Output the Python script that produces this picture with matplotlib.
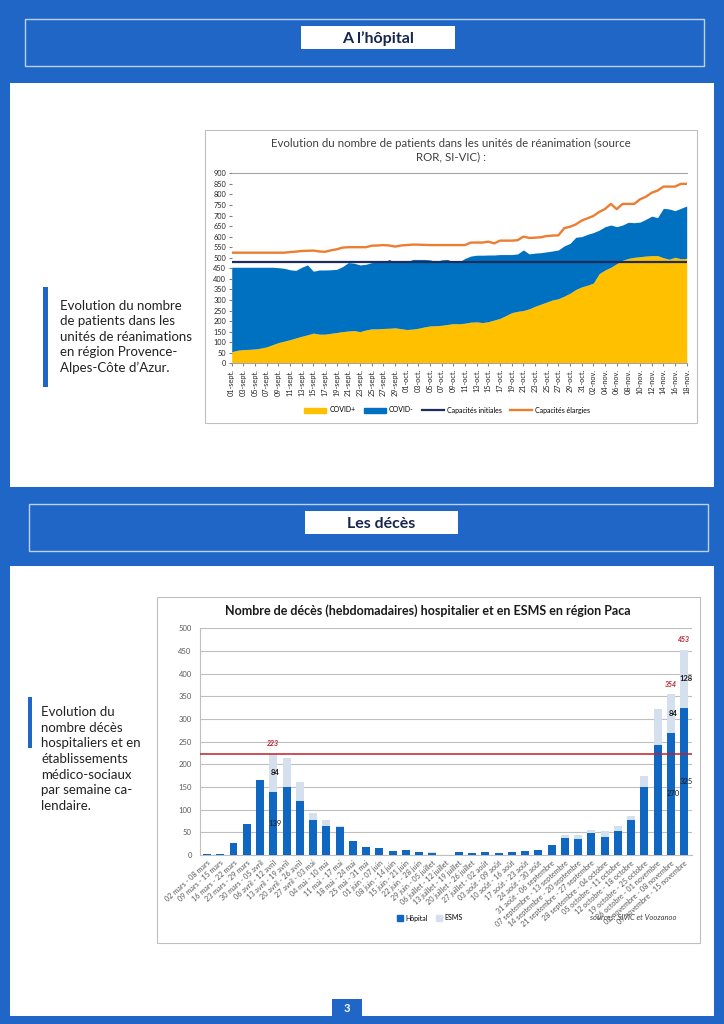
import matplotlib.pyplot as plt
from matplotlib.patches import Rectangle, Patch
from matplotlib.lines import Line2D
import numpy as np

plt.rcParams['font.family'] = ['Lato', 'DejaVu Sans']

W, H = 724, 1024
BLEU = '#1F66C6'

# --- graphique 1 : patients en réanimation, 01-sept -> 18-nov (journalier) ---
covid_plus = [55, 62, 65, 66, 68, 72, 78, 88, 98, 105, 112, 120, 128, 135, 143,
              138, 138, 142, 146, 150, 153, 155, 150, 158, 163, 163, 165, 166, 168, 164,
              160, 162, 166, 172, 177, 178, 180, 184, 188, 187, 190, 195, 196, 193, 197,
              205, 213, 226, 240, 246, 250, 258, 270, 280, 290, 300, 306, 318, 332, 350, 362,
              370, 380, 425, 442, 455, 472, 488, 497, 502, 505, 508, 510, 510, 500, 493,
              502, 495, 497]
total_rea = [455, 455, 455, 455, 455, 455, 455, 455, 453, 450, 443, 440, 455, 466, 436,
             442, 442, 443, 445, 458, 477, 474, 466, 469, 477, 478, 478, 492, 478, 478,
             478, 492, 492, 492, 490, 482, 490, 492, 480, 480, 497, 508, 512, 512, 513,
             513, 515, 515, 515, 518, 537, 518, 522, 524, 528, 532, 537, 556, 568, 597, 600,
             611, 619, 631, 647, 655, 647, 655, 668, 666, 669, 682, 697, 690, 734, 731,
             723, 734, 745]
cap_elargies = [524, 524, 524, 524, 524, 524, 524, 524, 524, 524, 527, 529, 532, 533, 534,
                530, 528, 535, 540, 548, 550, 550, 550, 550, 557, 558, 560, 558, 553, 558,
                560, 562, 562, 561, 560, 560, 560, 560, 560, 560, 560, 572, 572, 572, 576,
                568, 581, 581, 581, 583, 600, 594, 595, 597, 603, 605, 606, 640, 647, 658, 676,
                687, 698, 717, 731, 755, 730, 755, 755, 755, 777, 789, 808, 818, 837, 837,
                837, 850, 850]
cap_initiales = 480
jours_labels = ['01-sept.', '03-sept.', '05-sept.', '07-sept.', '09-sept.', '11-sept.',
                '13-sept.', '15-sept.', '17-sept.', '19-sept.', '21-sept.', '23-sept.',
                '25-sept.', '27-sept.', '29-sept.', '01-oct.', '03-oct.', '05-oct.',
                '07-oct.', '09-oct.', '11-oct.', '13-oct.', '15-oct.', '17-oct.',
                '19-oct.', '21-oct.', '23-oct.', '25-oct.', '27-oct.', '29-oct.',
                '31-oct.', '02-nov.', '04-nov.', '06-nov.', '08-nov.', '10-nov.',
                '12-nov.', '14-nov.', '16-nov.', '18-nov.']

# --- graphique 2 : décès hebdomadaires ---
semaines = ['02 mars - 08 mars', '09 mars - 15 mars', '16 mars - 22 mars',
            '23 mars - 29 mars', '30 mars - 05 avril', '06 avril - 12 avril',
            '13 avril - 19 avril', '20 avril - 26 avril', '27 avril - 03 mai',
            '04 mai - 10 mai', '11 mai - 17 mai', '18 mai - 24 mai', '25 mai - 31 mai',
            '01 juin - 07 juin', '08 juin - 14 juin', '15 juin - 21 juin',
            '22 juin - 28 juin', '29 juin - 05 juillet', '06 juillet - 12 juillet',
            '13 juillet - 19 juillet', '20 juillet - 26 juillet', '27 juillet - 02 août',
            '03 août - 09 août', '10 août - 16 août', '17 août - 23 août',
            '24 août - 30 août', '31 août - 06 septembre', '07 septembre - 13 septembre',
            '14 septembre - 20 septembre', '21 septembre - 27 septembre',
            '28 septembre - 04 octobre', '05 octobre - 11 octobre',
            '12 octobre - 18 octobre', '19 octobre - 25 octobre',
            '26 octobre - 01 novembre', '02 novembre - 08 novembre',
            '09 novembre - 15 novembre']
deces_hopital = [2, 2, 26, 69, 165, 139, 150, 119, 77, 65, 62, 31, 18, 15, 9, 11, 7, 4, 1,
                 6, 4, 7, 4, 6, 8, 10, 21, 38, 36, 48, 40, 53, 77, 149, 243, 270, 325]
deces_esms = [0, 0, 0, 0, 0, 84, 63, 43, 15, 12, 1, 0, 0, 0, 0, 0, 0, 2, 0,
              0, 0, 0, 0, 0, 0, 0, 0, 7, 8, 8, 14, 12, 10, 25, 78, 84, 128]
semaines_annotees = [5, 35, 36]
seuil_vague1 = 223

fig = plt.figure(figsize=(W / 100, H / 100), dpi=100)
fig.patch.set_facecolor(BLEU)
bg = fig.add_axes([0, 0, 1, 1])
bg.set_xlim(0, W)
bg.set_ylim(H, 0)
bg.axis('off')


def rect(x0, y0, x1, y1, **kw):
    bg.add_patch(Rectangle((x0, y0), x1 - x0, y1 - y0, **kw))


def px_axes(x0, y0, x1, y1):
    return fig.add_axes([x0 / W, 1 - y1 / H, (x1 - x0) / W, (y1 - y0) / H])


# bandeaux de titre
for (bx0, by0, bx1, by1), (lx0, ly0, lx1, ly1), titre in [
        ((25, 19, 704, 66), (301, 26, 455, 49), 'A l’hôpital'),
        ((29, 504, 708, 551), (305, 511, 458, 534), 'Les décès')]:
    rect(bx0, by0, bx1, by1, fill=False, ec='#BCD2F2', lw=1)
    rect(lx0, ly0, lx1, ly1, fc='white', ec='none')
    bg.text((lx0 + lx1) / 2, (ly0 + ly1) / 2 + 1.5, titre, ha='center', va='center',
            fontsize=11.5, fontweight='bold', color='#17264F')

# panneaux blancs
rect(10, 83, 714, 487, fc='white', ec='none')
rect(10, 566, 714, 1016, fc='white', ec='none')

# textes de gauche
rect(43, 287, 48, 387, fc=BLEU, ec='none')
bg.text(60, 337, 'Evolution du nombre\nde patients dans les\nunités de réanimations\n'
        'en région Provence-\nAlpes-Côte d’Azur.', ha='left', va='center',
        fontsize=9.5, color='#222222', linespacing=1.35)
rect(28, 697, 32, 748, fc=BLEU, ec='none')
bg.text(41, 759, 'Evolution du\nnombre décès\nhospitaliers et en\nétablissements\n'
        'médico-sociaux\npar semaine ca-\nlendaire.', ha='left', va='center',
        fontsize=9.5, color='#222222', linespacing=1.37)

# ---------------- graphique 1 ----------------
rect(205, 130, 697, 423, fc='white', ec='#BFBFBF', lw=0.8)
bg.text(451, 150, 'Evolution du nombre de patients dans les unités de réanimation (source\n'
        'ROR, SI-VIC) :', ha='center', va='center', fontsize=8.3, color='#404040',
        linespacing=1.25)

ax1 = px_axes(231.7, 173.3, 686.7, 363.3)
x = np.arange(len(covid_plus))
ax1.fill_between(x, 0, covid_plus, color='#FFC000', lw=0)
ax1.fill_between(x, covid_plus, total_rea, color='#0070C0', lw=0)
ax1.axhline(cap_initiales, color='#1F2D5A', lw=1.6)
ax1.plot(x, cap_elargies, color='#ED7D31', lw=1.7)
ax1.set_xlim(0, len(x) - 1)
ax1.set_ylim(0, 900)
ax1.set_yticks(range(0, 901, 50))
ax1.set_xticks(x[::2])
ax1.set_xticklabels(jours_labels, rotation=90)
ax1.tick_params(labelsize=5.3, length=2, color='#808080', labelcolor='#262626', pad=2)
for s in ['left', 'right']:
    ax1.spines[s].set_visible(False)
for s in ['top', 'bottom']:
    ax1.spines[s].set_color('#A6A6A6')
    ax1.spines[s].set_linewidth(0.8)

h1 = [Patch(color='#FFC000'), Patch(color='#0070C0'),
      Line2D([], [], color='#1F2D5A', lw=1.6), Line2D([], [], color='#ED7D31', lw=1.7)]
fig.legend(h1, ['COVID+', 'COVID-', 'Capacités initiales', 'Capacités élargies'],
           loc='center', bbox_to_anchor=(447 / W, 1 - 410 / H), ncol=4, frameon=False,
           fontsize=5, handlelength=3.2, handleheight=0.7, columnspacing=1.2,
           handletextpad=0.4)

# ---------------- graphique 2 ----------------
rect(157, 597, 700, 943, fc='white', ec='#BFBFBF', lw=0.8)
bg.text(428, 611, 'Nombre de décès (hebdomadaires) hospitalier et en ESMS en région Paca',
        ha='center', va='center', fontsize=9, fontweight='bold', color='#1A1A1A')

ax2 = px_axes(200, 628.3, 692, 855)
xb = np.arange(len(semaines))
ax2.bar(xb, deces_hopital, width=0.6, color='#0F67C1', zorder=3)
ax2.bar(xb, deces_esms, width=0.6, bottom=deces_hopital, color='#D5E0EE', zorder=3)
ax2.axhline(seuil_vague1, color='#C0202A', lw=1.1, zorder=4)
ax2.set_xlim(-0.53, 36.6)
ax2.set_ylim(0, 500)
ax2.set_yticks(range(0, 501, 50))
ax2.yaxis.grid(True, color='#BFBFBF', lw=0.8, zorder=0)
ax2.set_xticks(xb)
ax2.set_xticklabels(semaines, rotation=42, ha='right', rotation_mode='anchor')
ax2.tick_params(axis='x', labelsize=5.2, length=0, labelcolor='#595959', pad=3)
ax2.tick_params(axis='y', labelsize=5.5, length=0, labelcolor='#595959', pad=6)
for s in ['top', 'right']:
    ax2.spines[s].set_visible(False)
for s in ['left', 'bottom']:
    ax2.spines[s].set_color('#BFBFBF')
    ax2.spines[s].set_linewidth(0.8)

for i in semaines_annotees:
    hop, esms = deces_hopital[i], deces_esms[i]
    ax2.text(i, hop + esms + 22, str(hop + esms), ha='center', va='center', fontsize=5,
             color='#C0202A', fontweight='bold', style='italic', zorder=5)
    ax2.text(i + 0.15, hop + esms / 2, str(esms), ha='center', va='center', fontsize=5.5,
             color='#1A1A1A', fontweight='bold', zorder=5)
    ax2.text(i + 0.15, hop / 2, str(hop), ha='center', va='center', fontsize=5.5,
             color='#1A1A1A', zorder=5)

h2 = [Patch(color='#0F67C1'), Patch(color='#D5E0EE')]
fig.legend(h2, ['Hôpital', 'ESMS'], loc='center', bbox_to_anchor=(430 / W, 1 - 918 / H),
           ncol=2, frameon=False, fontsize=5, handlelength=0.8, handleheight=0.8,
           columnspacing=1.2, handletextpad=0.4)
bg.text(590, 918, 'sources: SIVIC et Voozanoo', ha='left', va='center', fontsize=5.5,
        style='italic', color='#404040', zorder=1)

# numéro de page
rect(332, 999, 362, 1024, fc=BLEU, ec='none')
bg.text(347, 1008, '3', ha='center', va='center', fontsize=8, fontweight='bold',
        color='white')

fig.savefig('out.png', dpi=100, facecolor=BLEU)
